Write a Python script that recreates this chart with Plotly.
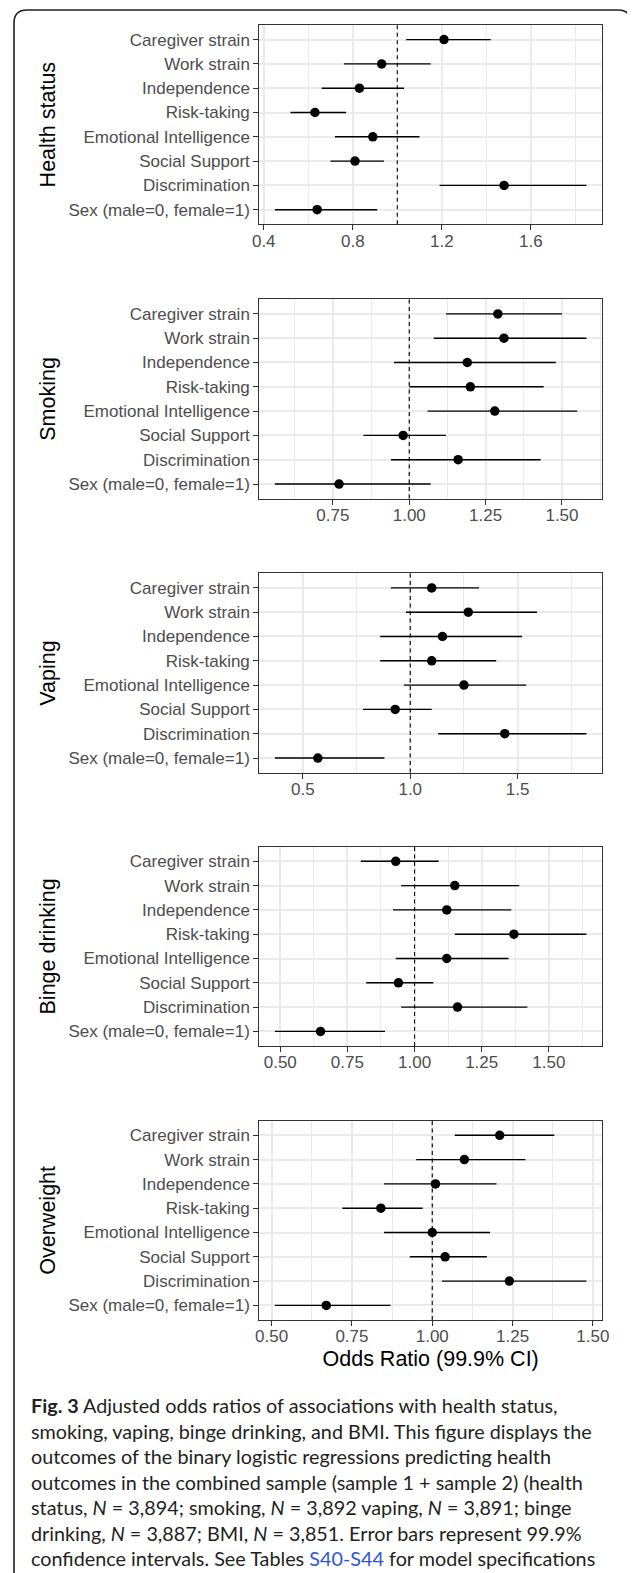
import plotly.graph_objects as go

# ---------------- data ----------------
categories = ["Caregiver strain", "Work strain", "Independence", "Risk-taking",
              "Emotional Intelligence", "Social Support", "Discrimination",
              "Sex (male=0, female=1)"]
outcomes = ["Health status", "Smoking", "Vaping", "Binge drinking", "Overweight"]

health_or = [1.21, 0.93, 0.83, 0.63, 0.89, 0.81, 1.48, 0.64]
health_lo = [1.04, 0.76, 0.66, 0.52, 0.72, 0.70, 1.19, 0.45]
health_hi = [1.42, 1.15, 1.03, 0.77, 1.10, 0.94, 1.85, 0.91]

smoking_or = [1.29, 1.31, 1.19, 1.20, 1.28, 0.98, 1.16, 0.77]
smoking_lo = [1.12, 1.08, 0.95, 1.00, 1.06, 0.85, 0.94, 0.56]
smoking_hi = [1.50, 1.58, 1.48, 1.44, 1.55, 1.12, 1.43, 1.07]

vaping_or = [1.10, 1.27, 1.15, 1.10, 1.25, 0.93, 1.44, 0.57]
vaping_lo = [0.91, 0.98, 0.86, 0.86, 0.97, 0.78, 1.13, 0.37]
vaping_hi = [1.32, 1.59, 1.52, 1.40, 1.54, 1.10, 1.82, 0.88]

binge_or = [0.93, 1.15, 1.12, 1.37, 1.12, 0.94, 1.16, 0.65]
binge_lo = [0.80, 0.95, 0.92, 1.15, 0.93, 0.82, 0.95, 0.48]
binge_hi = [1.09, 1.39, 1.36, 1.64, 1.35, 1.07, 1.42, 0.89]

overweight_or = [1.21, 1.10, 1.01, 0.84, 1.00, 1.04, 1.24, 0.67]
overweight_lo = [1.07, 0.95, 0.85, 0.72, 0.85, 0.93, 1.03, 0.51]
overweight_hi = [1.38, 1.29, 1.20, 0.97, 1.18, 1.17, 1.48, 0.87]

tickvals_health = [0.4, 0.8, 1.2, 1.6]
ticktext_health = ["0.4", "0.8", "1.2", "1.6"]
tickvals_smoking = [0.75, 1.00, 1.25, 1.50]
ticktext_smoking = ["0.75", "1.00", "1.25", "1.50"]
tickvals_vaping = [0.5, 1.0, 1.5]
ticktext_vaping = ["0.5", "1.0", "1.5"]
tickvals_binge = [0.50, 0.75, 1.00, 1.25, 1.50]
ticktext_binge = ["0.50", "0.75", "1.00", "1.25", "1.50"]
tickvals_overweight = [0.50, 0.75, 1.00, 1.25, 1.50]
ticktext_overweight = ["0.50", "0.75", "1.00", "1.25", "1.50"]

x_title = "Odds Ratio (99.9% CI)"
caption_lines = [
    "<b>Fig. 3</b> Adjusted odds ratios of associations with health status,",
    "smoking, vaping, binge drinking, and BMI. This figure displays the",
    "outcomes of the binary logistic regressions predicting health",
    "outcomes in the combined sample (sample 1 + sample 2) (health",
    "status, <i>N</i> = 3,894; smoking, <i>N</i> = 3,892 vaping, <i>N</i> = 3,891; binge",
    "drinking, <i>N</i> = 3,887; BMI, <i>N</i> = 3,851. Error bars represent 99.9%",
    "confidence intervals. See Tables <span style='color:#2f55d4'>S40-S44</span> for model specifications",
]

panels = [
    (health_or, health_lo, health_hi, tickvals_health, ticktext_health, 0.2),
    (smoking_or, smoking_lo, smoking_hi, tickvals_smoking, ticktext_smoking, 0.125),
    (vaping_or, vaping_lo, vaping_hi, tickvals_vaping, ticktext_vaping, 0.25),
    (binge_or, binge_lo, binge_hi, tickvals_binge, ticktext_binge, 0.125),
    (overweight_or, overweight_lo, overweight_hi, tickvals_overweight, ticktext_overweight, 0.125),
]

# ---------------- layout geometry (page pixels) ----------------
# the page body has an 8px default margin, so the figure is offset by 8px
OFF = 8
W, H = 635 - OFF, 1573 - OFF
PX_LEFT, PX_RIGHT = 259.3, 602.0
panel_tops = [25.0, 299.3, 573.3, 846.7, 1120.7]
PANEL_H = 199.3

def px_x(p):
    return (p - OFF) / W

def px_y(p):
    return 1 - (p - OFF) / H

FONT = "Liberation Sans, Arial, sans-serif"
TICK_COL = "#4D4D4D"
GRID_COL = "#EBEBEB"

fig = go.Figure()
layout = dict(
    template="none",
    width=W, height=H, margin=dict(l=0, r=0, t=0, b=0, pad=0),
    paper_bgcolor="white", plot_bgcolor="white", showlegend=False,
    font=dict(family=FONT, color="black"),
)
shapes = []

for i, (orv, lo, hi, tv, tt, minor_dt) in enumerate(panels):
    n = i + 1
    xa = "x" if n == 1 else f"x{n}"
    ya = "y" if n == 1 else f"y{n}"
    err_plus = [h - o for h, o in zip(hi, orv)]
    err_minus = [o - l for o, l in zip(orv, lo)]
    fig.add_trace(go.Scatter(
        x=orv, y=categories, mode="markers", xaxis=xa, yaxis=ya,
        marker=dict(color="black", size=9.5, line=dict(width=0)),
        error_x=dict(type="data", symmetric=False, array=err_plus,
                     arrayminus=err_minus, width=0, thickness=1.4, color="black"),
        name=outcomes[i], hoverinfo="x+y",
    ))
    lo_all, hi_all = min(lo), max(hi)
    pad = 0.05 * (hi_all - lo_all)
    xr = [lo_all - pad, hi_all + pad]
    top = panel_tops[i]
    bot = top + PANEL_H
    xkey = "xaxis" if n == 1 else f"xaxis{n}"
    ykey = "yaxis" if n == 1 else f"yaxis{n}"
    xaxis = dict(
        domain=[px_x(PX_LEFT), px_x(PX_RIGHT)], anchor=ya, range=xr,
        automargin=False,
        tickmode="array", tickvals=tv, ticktext=tt,
        ticks="outside", ticklen=5, tickwidth=1.1, tickcolor="#333333",
        ticklabelstandoff=-4,
        tickfont=dict(size=17, color=TICK_COL, family=FONT),
        showgrid=True, gridcolor=GRID_COL, gridwidth=1.6,
        minor=dict(dtick=minor_dt, tick0=tv[0], showgrid=True,
                   gridcolor=GRID_COL, gridwidth=0.8),
        showline=True, mirror=True, linecolor="#333333", linewidth=1.1,
        zeroline=False, fixedrange=True,
    )
    if n == 5:
        xaxis["title"] = dict(text=x_title, font=dict(size=21.5, color="black", family=FONT),
                              standoff=5)
    yaxis = dict(
        domain=[px_y(bot), px_y(top)], anchor=xa,
        automargin=False,
        type="category", categoryorder="array", categoryarray=categories,
        range=[len(categories) - 0.4, -0.6],
        ticks="outside", ticklen=5, tickwidth=1.1, tickcolor="#333333",
        tickfont=dict(size=17, color=TICK_COL, family=FONT),
        showgrid=True, gridcolor=GRID_COL, gridwidth=1.6,
        showline=True, mirror=True, linecolor="#333333", linewidth=1.1,
        zeroline=False, fixedrange=True,
        title=dict(text=outcomes[i], font=dict(size=21.5, color="black", family=FONT),
                   standoff=6),
    )
    layout[xkey] = xaxis
    layout[ykey] = yaxis
    shapes.append(dict(
        type="line", xref=xa, yref=f"{ya} domain", x0=1, x1=1, y0=0, y1=1,
        line=dict(color="black", width=1.1, dash="4px,3.5px"), layer="above",
    ))

# outer rounded frame
fl, fr, ft, fb, r = 14.0, 631.0, 10.0, 1600.0, 13.0
path = (f"M {px_x(fl)},{px_y(fb)} L {px_x(fl)},{px_y(ft + r)} "
        f"Q {px_x(fl)},{px_y(ft)} {px_x(fl + r)},{px_y(ft)} "
        f"L {px_x(fr - r)},{px_y(ft)} "
        f"Q {px_x(fr)},{px_y(ft)} {px_x(fr)},{px_y(ft + r)} "
        f"L {px_x(fr)},{px_y(fb)}")
shapes.append(dict(type="path", xref="paper", yref="paper", path=path,
                   line=dict(color="#231f20", width=1.6), layer="above"))

annotations = []
cap_top = 1405.0
cap_step = 25.5
for k, line in enumerate(caption_lines):
    annotations.append(dict(
        xref="paper", yref="paper", x=px_x(29), y=px_y(cap_top + k * cap_step),
        xanchor="left", yanchor="middle", showarrow=False, text=line,
        font=dict(family="Lato, sans-serif", size=19.8, color="#231f20"),
    ))

layout["shapes"] = shapes
layout["annotations"] = annotations
fig.update_layout(**layout)

fig.write_html("out.html")
